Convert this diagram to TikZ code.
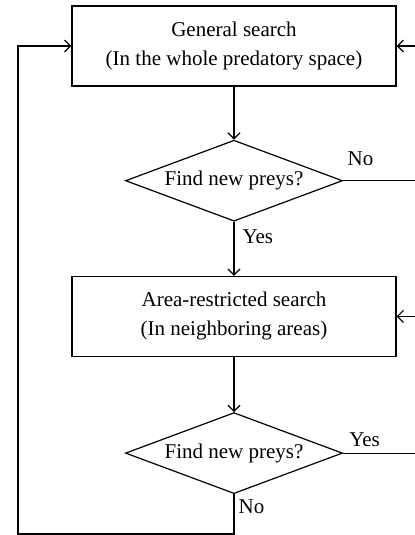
\documentclass[tikz,border=0pt]{standalone}
\usepackage{fontspec}
\setmainfont{Liberation Serif}
\usetikzlibrary{shapes.geometric,arrows.meta,positioning}
\tikzset{%
process/.style={rectangle, draw, semithick, minimum width=162pt, minimum height=40pt, align=center, font=\fontsize{10.5}{14.5}\selectfont},
decision/.style={diamond, aspect=2.68, draw, semithick, inner sep=0pt, minimum width=108.5pt, minimum height=40.5pt, font=\fontsize{10.5}{13}\selectfont},
flow/.style={draw, semithick, -{Straight Barb[length=3pt,width=6pt]}},
lbl/.style={font=\fontsize{10.5}{13}\selectfont, inner sep=2pt}
}
\begin{document}
\begin{tikzpicture}[x=0.5pt, y=-0.5pt, node distance=27pt]
	\useasboundingbox (0,0) rectangle (415,535);
	\clip (0,0) rectangle (415,535);
	
	\node[process] (gen) at (234,46) {General search\\(In the whole predatory space)};
	\node[decision] (find1) [below=26.5pt of gen] {Find new preys?};
	\node[process] (area) [below=27pt of find1] {Area-restricted search\\(In neighboring areas)};
	\node[decision] (find2) [below=27.5pt of area] {Find new preys?};
	
	\coordinate (rtop) at (422,0);
	\coordinate (lbot) at (18,534);
	
	\path[flow] (gen) -- (find1);
	\path[flow] (find1) -- node[lbl, pos=0.28, right, xshift=2pt] {Yes} (area);
	\path[flow] (area) -- (find2);
	
	\path[flow] (find1.east) -- node[lbl, pos=0, above right, yshift=5pt] {No} (find1.east -| rtop) |- (gen.east);
	\path[flow] (find2.east) -- node[lbl, pos=0.02, above right, yshift=1pt] {Yes} (find2.east -| rtop) |- (area.east);
	\path[flow] (find2.south) -- node[lbl, pos=0.02, below right] {No} (find2.south |- lbot) -- (lbot) |- (gen.west);
\end{tikzpicture}
\end{document}
